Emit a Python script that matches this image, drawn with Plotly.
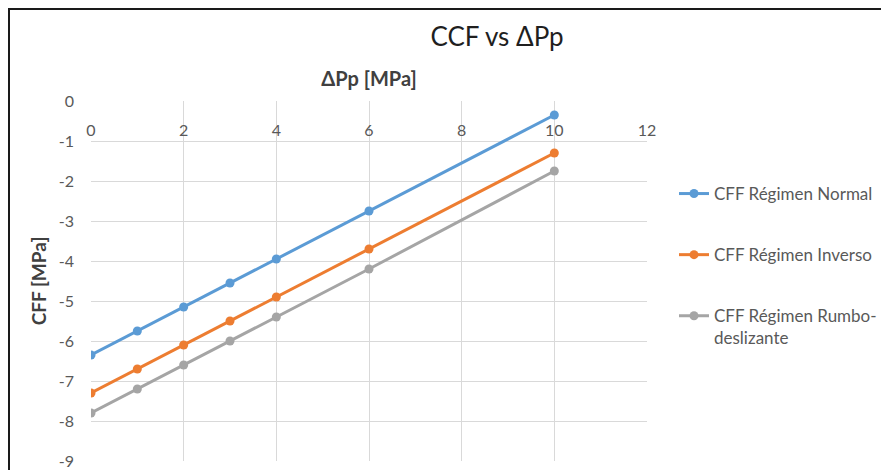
import plotly.graph_objects as go

dpp = [0, 1, 2, 3, 4, 6, 10]
cff_normal = [-6.35, -5.75, -5.15, -4.55, -3.95, -2.75, -0.35]
cff_inverso = [-7.3, -6.7, -6.1, -5.5, -4.9, -3.7, -1.3]
cff_rumbo = [-7.8, -7.2, -6.6, -6.0, -5.4, -4.2, -1.75]

series_names = ["CFF Régimen Normal", "CFF Régimen Inverso", "CFF Régimen Rumbo-<br>deslizante"]
colors = ["#5B9BD5", "#ED7D31", "#A5A5A5"]

x_ticks = [0, 2, 4, 6, 8, 10, 12]
y_ticks = [0, -1, -2, -3, -4, -5, -6, -7, -8, -9]
y_ticktext = [str(v) if v == 0 else "-" + str(-v) for v in y_ticks]

FONT = "Lato, Calibri, Arial, sans-serif"
OFF = 8  # page body margin offset
W, H = 889 - OFF, 470 - OFF
PL, PR, PT, PB = 91, 647, 101, 461  # plot area in page pixels
L, T = PL - OFF, PT - OFF
R, B = W - (PR - OFF), H - (PB - OFF)
pw, ph = PR - PL, PB - PT

fig = go.Figure()
for i, (name, ys, c) in enumerate(zip(series_names, [cff_normal, cff_inverso, cff_rumbo], colors)):
    fig.add_trace(go.Scatter(
        x=dpp, y=ys, name=name, mode="lines+markers", legendgroup="g%d" % i,
        line=dict(color=c, width=3),
        marker=dict(color=c, size=9),
    ))

def px_x(p):
    return (p - PL) / pw

def px_y(p):
    return (PB - p) / ph

fig.update_layout(
    width=W, height=H,
    margin=dict(l=L, r=R, t=T, b=B, autoexpand=False),
    paper_bgcolor="white", plot_bgcolor="white",
    font=dict(family=FONT, size=16, color="#595959"),
    title=dict(text="CCF vs ΔPp", xref="paper", x=px_x(497), xanchor="center",
               yref="container", y=1 - (37 - OFF) / H, yanchor="middle",
               font=dict(family=FONT, size=26, color="#1f1f1f")),
    xaxis=dict(
        side="top", range=[0, 12], tickvals=x_ticks, showgrid=True, gridcolor="#D9D9D9", gridwidth=1,
        zeroline=False, showline=False, ticks="", ticklabelposition="inside", ticklabelstandoff=21,
        ticklabeloverflow="allow", automargin=False,
        title=dict(text="<b>ΔPp [MPa]</b>", standoff=28, font=dict(size=20, color="#404040")),
        tickfont=dict(size=16, color="#595959"),
    ),
    yaxis=dict(
        range=[-9, 0], tickvals=y_ticks, ticktext=y_ticktext, showgrid=True, gridcolor="#D9D9D9",
        gridwidth=1, zeroline=False, showline=False, ticks="", ticklabelstandoff=16, automargin=False,
        title=dict(text="<b>CFF [MPa]</b>", standoff=7, font=dict(size=19, color="#404040")),
        tickfont=dict(size=16, color="#595959"),
    ),
    legend=dict(
        x=px_x(674), xanchor="left", y=px_y(176), yanchor="top",
        font=dict(family=FONT, size=17, color="#595959"),
        tracegroupgap=36, valign="top", bgcolor="rgba(0,0,0,0)",
    ),
    shapes=[dict(type="rect", xref="paper", yref="paper",
                 x0=px_x(9), x1=px_x(900), y0=px_y(9), y1=px_y(480),
                 line=dict(color="#1a1a1a", width=2), layer="below")],
    hovermode=False,
)

fig.write_html("out.html")
